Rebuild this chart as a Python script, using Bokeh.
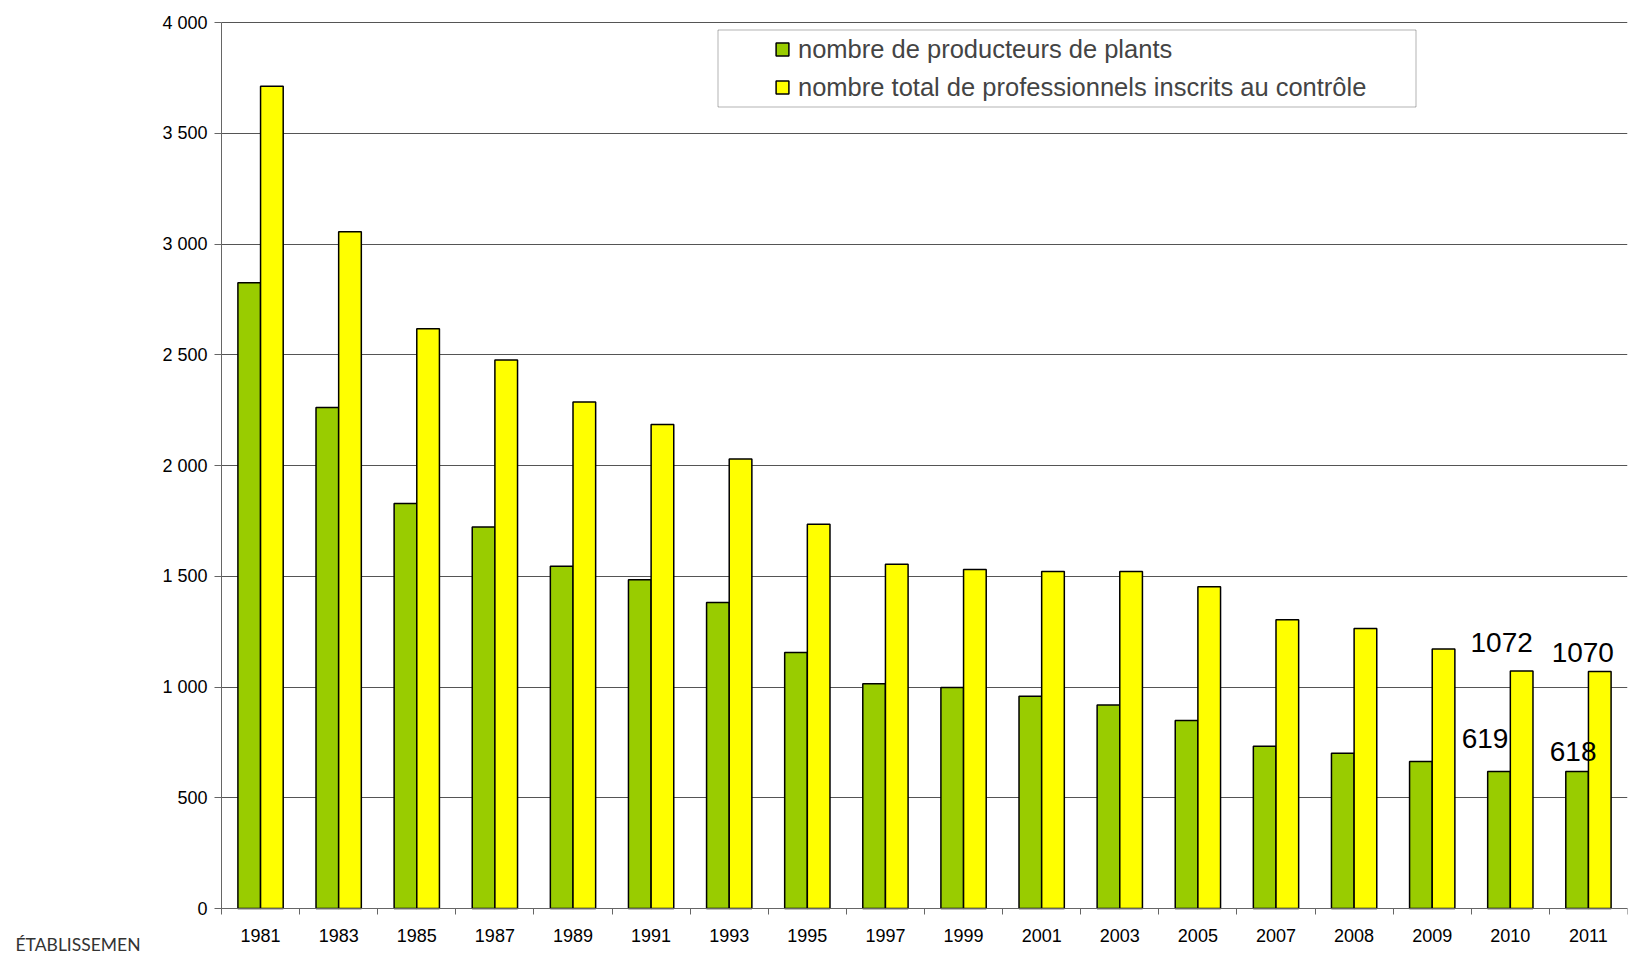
from bokeh.plotting import figure
from bokeh.models import (Range1d, FixedTicker, CustomJSTickFormatter, Legend, LegendItem,
                          BoxAnnotation, Label, ColumnDataSource)
from bokeh.core.properties import value
from bokeh.embed import file_html
from bokeh.resources import INLINE

# ---------------- data ----------------
years = ["1981", "1983", "1985", "1987", "1989", "1991", "1993", "1995", "1997",
         "1999", "2001", "2003", "2005", "2007", "2008", "2009", "2010", "2011"]
producteurs = [2825, 2262, 1828, 1722, 1545, 1484, 1381, 1156, 1015,
               998, 958, 919, 849, 732, 701, 664, 619, 618]
total_inscrits = [3712, 3055, 2617, 2476, 2287, 2185, 2029, 1735, 1554,
                  1530, 1522, 1521, 1453, 1304, 1264, 1172, 1072, 1070]
series_names = ["nombre de producteurs de plants",
                "nombre total de professionnels inscrits au contrôle"]
labelled_years = ["2010", "2011"]
y_ticks = [0, 500, 1000, 1500, 2000, 2500, 3000, 3500, 4000]
footer_text = "ÉTABLISSEMEN"

# ---------------- styles ----------------
GREEN = "#99CC00"
YELLOW = "#FFFF00"
FONT = "Liberation Sans"
BAR_W = 0.29
OFFS = 0.145
# screen offsets (px) of the value labels' centres from the bar tops
green_label_offsets = [(-14, -33), (-4, -20.5)]
yellow_label_offsets = [(-20, -28.5), (-17, -18.5)]

W, H = 1630, 956
MR = 3
# where the value axes sit on the page (pixels)
FL, FR = 221, W - MR
FT, FB = 22, 908
n = len(years)
YMAX = 4000
ppx = (FR - FL) / n          # px per category
ppy = (FB - FT) / YMAX       # px per unit


def px_x(px):
    return (px - FL) / ppx


def px_y(py):
    return (FB - py) / ppy


# the frame covers the whole canvas; the axes are pinned at 0
p = figure(width=W, height=H, output_backend="svg", toolbar_location=None,
           x_range=Range1d(px_x(0), n), y_range=Range1d(px_y(H), px_y(0)),
           min_border_left=0, min_border_right=MR, min_border_top=0, min_border_bottom=0,
           background_fill_color="white", border_fill_color="white")
p.outline_line_color = None

centers = [i + 0.5 for i in range(n)]
src = ColumnDataSource(dict(
    xg=[c - OFFS for c in centers], xy=[c + OFFS for c in centers],
    prod=producteurs, tot=total_inscrits))

r1 = p.vbar(x="xg", top="prod", width=BAR_W, source=src, fill_color=GREEN,
            line_color="black", line_width=1.5)
r2 = p.vbar(x="xy", top="tot", width=BAR_W, source=src, fill_color=YELLOW,
            line_color="black", line_width=1.5)

# grid
p.xgrid.visible = False
yg = p.ygrid[0]
yg.ticker = FixedTicker(ticks=y_ticks)
yg.grid_line_color = "#555555"
yg.grid_line_width = 1
yg.bounds = (0, YMAX)
if "cross_bounds" in yg.properties():
    yg.cross_bounds = (0, n)

# y axis
ya = p.yaxis[0]
ya.fixed_location = 0
ya.bounds = (0, YMAX)
ya.ticker = FixedTicker(ticks=y_ticks)
ya.formatter = CustomJSTickFormatter(code="""
    if (tick >= 1000) { return Math.floor(tick/1000) + ' ' + String(tick % 1000).padStart(3, '0'); }
    return String(tick);""")
ya.major_label_text_font = FONT
ya.major_label_text_font_size = "18px"
ya.major_label_text_color = "black"
ya.major_tick_out = 7
ya.major_tick_in = 0
ya.minor_tick_out = 0
ya.minor_tick_in = 0
ya.major_label_standoff = 7
ya.axis_line_color = "#666666"
ya.major_tick_line_color = "#666666"

# x axis
xa = p.xaxis[0]
xa.fixed_location = 0
xa.bounds = (0, n)
xa.ticker = FixedTicker(ticks=centers, minor_ticks=list(range(n + 1)))
xa.formatter = CustomJSTickFormatter(args=dict(labels=years),
                                     code="return labels[Math.floor(tick)] || '';")
xa.major_label_text_font = FONT
xa.major_label_text_font_size = "18px"
xa.major_label_text_color = "black"
xa.major_tick_out = 0
xa.major_tick_in = 0
xa.minor_tick_out = 6
xa.minor_tick_in = 0
xa.minor_tick_line_color = "#666666"
xa.major_label_standoff = 14
xa.axis_line_color = "#666666"

# value labels
lx, ly, lt, ldx, ldy = [], [], [], [], []
for k, yr in enumerate(labelled_years):
    i = years.index(yr)
    lx.append(centers[i] - OFFS); ly.append(producteurs[i]); lt.append(str(producteurs[i]))
    ldx.append(green_label_offsets[k][0]); ldy.append(green_label_offsets[k][1])
    lx.append(centers[i] + OFFS); ly.append(total_inscrits[i]); lt.append(str(total_inscrits[i]))
    ldx.append(yellow_label_offsets[k][0]); ldy.append(yellow_label_offsets[k][1])
lsrc = ColumnDataSource(dict(x=lx, y=ly, t=lt, dx=ldx, dy=ldy))
p.text(x="x", y="y", text="t", x_offset="dx", y_offset="dy", source=lsrc,
       text_font=value(FONT), text_font_size="28px", text_color="black",
       text_align="center", text_baseline="middle")

# legend (location is relative to the frame's bottom-left corner)
legend = Legend(items=[LegendItem(label=series_names[0], renderers=[r1]),
                       LegendItem(label=series_names[1], renderers=[r2])],
                location=(774 - 5, H - 107), padding=5, spacing=8, margin=0,
                label_standoff=8, glyph_width=16, glyph_height=16, label_height=30,
                label_text_font=FONT, label_text_font_size="25.5px",
                border_line_alpha=0, background_fill_alpha=0)
p.add_layout(legend, "center")
p.add_layout(BoxAnnotation(left=px_x(717.5), right=px_x(1415.5), top=px_y(29.5), bottom=px_y(106.5),
                           fill_alpha=0, line_color="black", line_width=1))

# cropped footer text
p.add_layout(Label(x=px_x(15), y=px_y(944), text=footer_text,
                   text_font="Lato", text_font_size="17.5px",
                   text_color="#333333", text_baseline="middle"))

open("out.html", "w").write(file_html(p, INLINE))
